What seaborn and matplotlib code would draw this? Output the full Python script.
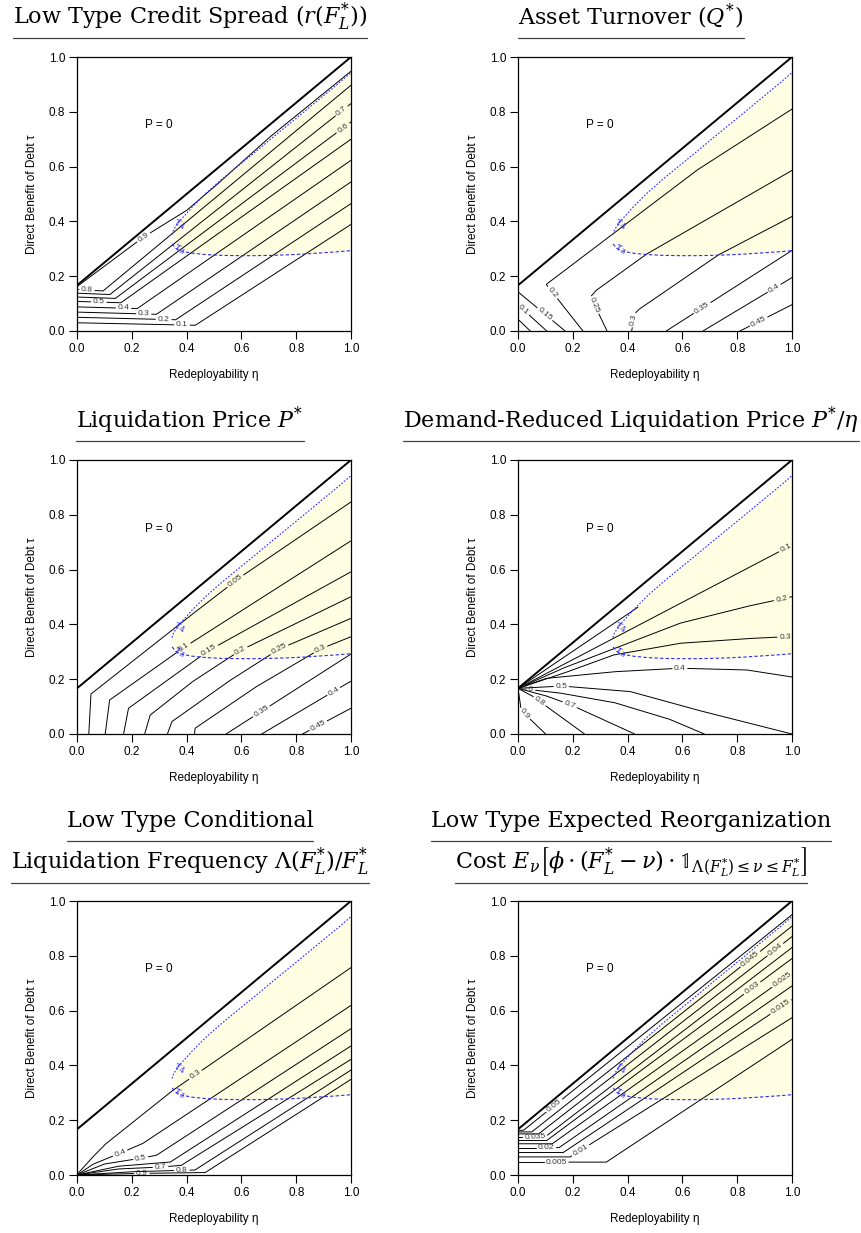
import numpy as np
import matplotlib
matplotlib.use("Agg")
import matplotlib.pyplot as plt
from matplotlib.lines import Line2D
import seaborn as sns

# axes ticks
ticks = [0.0, 0.2, 0.4, 0.6, 0.8, 1.0]

# boundary of the P = 0 region
boundary_eta = [0.0, 1.0]
boundary_tau = [0.1667, 1.0]

# tau4 (upper) and tau3 (lower) curves
tau4_eta = [0.347, 0.352, 0.362, 0.375, 0.395, 0.42, 0.47, 0.53, 0.59, 0.65, 0.71, 0.77, 0.83, 0.89, 0.95, 1.0]
tau4_val = [0.352, 0.368, 0.385, 0.402, 0.424, 0.452, 0.502, 0.555, 0.604, 0.653, 0.703, 0.752, 0.801, 0.851, 0.900, 0.943]
tau3_eta = [0.347, 0.36, 0.38, 0.42, 0.47, 0.53, 0.59, 0.65, 0.71, 0.77, 0.83, 0.89, 0.95, 1.0]
tau3_val = [0.318, 0.302, 0.292, 0.284, 0.279, 0.276, 0.275, 0.275, 0.276, 0.278, 0.281, 0.285, 0.289, 0.293]

# panel 1: low type credit spread
spread_levels = ["0.1", "0.2", "0.3", "0.4", "0.5", "0.6", "0.7", "0.8", "0.9"]
spread_lines = [
    [(0, 0.030), (0.432, 0.021), (1, 0.389)],
    [(0, 0.050), (0.36, 0.041), (1, 0.465)],
    [(0, 0.069), (0.29, 0.061), (1, 0.544)],
    [(0, 0.088), (0.22, 0.082), (1, 0.623)],
    [(0, 0.108), (0.16, 0.103), (1, 0.700)],
    [(0, 0.124), (0.14, 0.119), (1, 0.763)],
    [(0, 0.138), (0.12, 0.133), (1, 0.830)],
    [(0, 0.152), (0.095, 0.146), (1, 0.897)],
    [(0, 0.162), (0.243, 0.343), (0.40, 0.44), (0.5, 0.525), (0.7, 0.705), (1, 0.948)],
]
spread_label_at = [(0.383, 0.023), (0.316, 0.043), (0.243, 0.063), (0.17, 0.084), (0.079, 0.106),
                   (0.965, 0.748), (0.961, 0.809), (0.036, 0.152), (0.243, 0.343)]

# panel 2: asset turnover
turnover_levels = ["0.05", "0.1", "0.15", "0.2", "0.25", "0.3", "0.35", "0.4", "0.45"]
turnover_lines = [
    [(0, 0.043), (0.045, 0)],
    [(0, 0.095), (0.105, 0)],
    [(0, 0.143), (0.172, 0)],
    [(0.237, 0), (0.103, 0.17), (0.347, 0.355), (0.65, 0.585), (1, 0.81)],
    [(0.325, 0), (0.265, 0.125), (0.285, 0.148), (0.468, 0.28), (1, 0.586)],
    [(0.415, 0), (0.425, 0.062), (0.44, 0.078), (0.73, 0.277), (1, 0.418)],
    [(0.541, 0), (1, 0.294)],
    [(0.675, 0), (1, 0.195)],
    [(0.81, 0), (1, 0.096)],
]
turnover_label_at = [None, (0.018, 0.075), (0.097, 0.06), (0.125, 0.14), (0.274, 0.094), (0.422, 0.04),
                     (0.669, 0.088), (0.937, 0.152), (0.882, 0.027)]

# panel 3: liquidation price
price_levels = ["0.05", "0.1", "0.15", "0.2", "0.25", "0.3", "0.35", "0.4", "0.45"]
price_lines = [
    [(0.043, 0), (0.051, 0.146), (0.401, 0.422), (0.6, 0.575), (1, 0.847)],
    [(0.103, 0), (0.119, 0.124), (0.389, 0.315), (1, 0.705)],
    [(0.17, 0), (0.188, 0.094), (0.481, 0.305), (1, 0.592)],
    [(0.247, 0), (0.267, 0.069), (0.42, 0.19), (0.596, 0.305), (1, 0.501)],
    [(0.33, 0), (0.346, 0.045), (0.55, 0.19), (0.738, 0.31), (1, 0.422)],
    [(0.429, 0), (0.431, 0.021), (0.65, 0.17), (0.888, 0.31), (1, 0.355)],
    [(0.544, 0), (1, 0.292)],
    [(0.674, 0), (1, 0.193)],
    [(0.823, 0), (1, 0.094)],
]
price_label_at = [(0.584, 0.55), (0.389, 0.319), (0.481, 0.307), (0.596, 0.305), (0.738, 0.31), (0.888, 0.31),
                  (0.669, 0.088), (0.937, 0.155), (0.882, 0.027)]

# panel 4: demand-reduced liquidation price
reduced_levels = [None, "0.1", "0.2", "0.3", "0.4", "0.5", "0.6", "0.7", "0.8", "0.9"]
reduced_lines = [
    [(0, 0.1667), (0.438, 0.463)],
    [(0, 0.1667), (1, 0.69)],
    [(0, 0.1667), (0.164, 0.24), (0.347, 0.31), (0.59, 0.404), (0.833, 0.465), (1, 0.501)],
    [(0, 0.1667), (0.164, 0.221), (0.347, 0.288), (0.59, 0.331), (0.833, 0.348), (1, 0.356)],
    [(0, 0.1667), (0.103, 0.203), (0.347, 0.227), (0.59, 0.24), (0.833, 0.234), (1, 0.208)],
    [(0, 0.1667), (0.16, 0.175), (0.409, 0.155), (0.652, 0.088), (1, 0.0)],
    [(0, 0.1667), (0.15, 0.15), (0.35, 0.115), (0.55, 0.055), (0.68, 0)],
    [(0, 0.1667), (0.1, 0.14), (0.189, 0.108), (0.426, 0)],
    [(0, 0.1667), (0.05, 0.14), (0.243, 0)],
    [(0, 0.1667), (0.012, 0.085), (0.101, 0)],
]
reduced_label_at = [None, (0.973, 0.69), (0.96, 0.5), (0.975, 0.356), (0.59, 0.24), (0.158, 0.175),
                    (0.035, 0.16), (0.189, 0.108), (0.079, 0.12), (0.018, 0.067)]

# panel 5: low type conditional liquidation frequency
freq_levels = ["0.3", "0.4", "0.5", "0.6", "0.7", "0.8", "0.9"]
freq_lines = [
    [(0, 0.002), (0.055, 0.063), (0.103, 0.112), (0.225, 0.209), (0.347, 0.307), (1, 0.757)],
    [(0, 0.0), (0.06, 0.04), (0.158, 0.08), (0.24, 0.115), (1, 0.619)],
    [(0, 0.0), (0.1, 0.04), (0.231, 0.061), (0.29, 0.072), (1, 0.534)],
    [(0, 0.0), (0.15, 0.032), (0.34, 0.047), (1, 0.471)],
    [(0, 0.0), (0.15, 0.022), (0.304, 0.029), (0.38, 0.035), (1, 0.422)],
    [(0, 0.0), (0.2, 0.012), (0.383, 0.017), (0.43, 0.018), (1, 0.383)],
    [(0, 0.0), (0.237, 0.006), (0.468, 0.009), (1, 0.349)],
]
freq_label_at = [(0.432, 0.367), (0.158, 0.079), (0.231, 0.063), None, (0.304, 0.028), (0.383, 0.017), (0.237, 0.006)]

# panel 6: low type expected reorganization cost
cost_levels = ["0.005", "0.01", "0.015", "0.02", "0.025", "0.03", "0.035", "0.04", "0.045", "0.05"]
cost_left_tau = [0.047, 0.066, 0.082, 0.100, 0.114, 0.126, 0.140, 0.150, 0.157, 0.163]
cost_kink_eta = [0.322, 0.19, 0.165, 0.15, 0.125, 0.105, 0.10, 0.075, 0.05, 0.02]
cost_right_tau = [0.495, 0.574, 0.640, 0.690, 0.737, 0.790, 0.830, 0.870, 0.908, 0.950]
cost_label_at = [(0.14, 0.047), (0.231, 0.085), (0.951, 0.627), (0.103, 0.10), (0.955, 0.724), (0.848, 0.692),
                 (0.061, 0.14), (0.933, 0.83), (0.839, 0.80), (0.128, 0.26)]
cost_lines = [[(0, lt), (ke, lt), (1, rt)] for lt, ke, rt in zip(cost_left_tau, cost_kink_eta, cost_right_tau)]

titles = [
    [r"Low Type Credit Spread $(r(F_L^{*}))$"],
    [r"Asset Turnover $(Q^{*})$"],
    [r"Liquidation Price $P^{*}$"],
    [r"Demand-Reduced Liquidation Price $P^{*}/\eta$"],
    ["Low Type Conditional", r"Liquidation Frequency $\Lambda(F_L^{*})/F_L^{*}$"],
    ["Low Type Expected Reorganization",
     r"Cost $E_{\nu}\left[\phi\cdot(F_L^{*}-\nu)\cdot\mathbb{1}_{\Lambda(F_L^{*})\leq\nu\leq F_L^{*}}\right]$"],
]

panels = [
    (spread_levels, spread_lines, spread_label_at),
    (turnover_levels, turnover_lines, turnover_label_at),
    (price_levels, price_lines, price_label_at),
    (reduced_levels, reduced_lines, reduced_label_at),
    (freq_levels, freq_lines, freq_label_at),
    (cost_levels, cost_lines, cost_label_at),
]

sns.set_style("ticks")
plt.rcParams["font.family"] = ["Liberation Sans", "DejaVu Sans"]
plt.rcParams["mathtext.fontset"] = "dejavuserif"
plt.rcParams["axes.linewidth"] = 0.9
plt.rcParams["axes.edgecolor"] = "black"
for key in ["text.color", "axes.labelcolor", "xtick.color", "ytick.color"]:
    plt.rcParams[key] = "black"

W, H = 861, 1233
AX_PX = 274.0
LABEL_FS = 6
fig = plt.figure(figsize=(W / 100, H / 100), dpi=100)

ax_left = [77, 518]
ax_top = [57, 460, 901]
title_cx = [190, 631]
title_base = [[24], [428], [827, 869]]
title_rule = [[38], [441], [841, 883]]


def label_width(s):
    em = LABEL_FS * 100 / 72
    return sum(0.278 * em if c == "." else 0.556 * em for c in s)


def contour(ax, pts, text, near):
    pts = np.asarray(pts, float)
    seg = np.hypot(*np.diff(pts, axis=0).T)
    s = np.r_[0.0, np.cumsum(seg)]
    ss = np.linspace(0.0, s[-1], 600)
    x = np.interp(ss, s, pts[:, 0])
    y = np.interp(ss, s, pts[:, 1])
    pieces = [(x, y)]
    if text is not None and near is not None:
        i = np.argmin(np.hypot(x - near[0], y - near[1]))
        half = (label_width(text) + 4) / AX_PX / 2
        s0 = ss[i]
        a = ss <= s0 - half
        b = ss >= s0 + half
        pieces = [(x[a], y[a]), (x[b], y[b])]
        xa, ya = np.interp(s0 - half, ss, x), np.interp(s0 - half, ss, y)
        xb, yb = np.interp(s0 + half, ss, x), np.interp(s0 + half, ss, y)
        ang = np.degrees(np.arctan2(yb - ya, xb - xa))
        if ang > 90:
            ang -= 180
        if ang < -90:
            ang += 180
        ax.text(x[i], y[i], text, rotation=ang, rotation_mode="anchor", ha="center", va="center",
                fontsize=LABEL_FS, color="#333333", zorder=4)
    for px, py in pieces:
        if len(px) > 1:
            sns.lineplot(x=px, y=py, sort=False, estimator=None, color="black", linewidth=0.7, ax=ax, zorder=3)


axes = []
for k, (levels, lines, label_at) in enumerate(panels):
    r, c = divmod(k, 2)
    ax = fig.add_axes([ax_left[c] / W, 1 - (ax_top[r] + AX_PX) / H, AX_PX / W, AX_PX / H])
    axes.append(ax)

    g = np.linspace(tau4_eta[0], 1.0, 200)
    ax.fill_between(g, np.interp(g, tau3_eta, tau3_val), np.interp(g, tau4_eta, tau4_val),
                    color="#fffde2", lw=0, zorder=1)

    for lev, pts, near in zip(levels, lines, label_at):
        contour(ax, pts, lev, near)

    sns.lineplot(x=boundary_eta, y=boundary_tau, color="black", linewidth=1.4, ax=ax, zorder=5)
    ax.plot(tau4_eta, tau4_val, color="#2a2aff", lw=0.8, ls=(0, (1.5, 1.5)), zorder=4)
    ax.plot(tau3_eta, tau3_val, color="#2a2aff", lw=0.8, ls=(0, (3, 2)), zorder=4)
    ax.text(0.372, 0.388, r"$\tau_4$", color="#2a2aff", fontsize=8, rotation=-25,
            ha="center", va="center", zorder=6)
    ax.text(0.372, 0.298, r"$\tau_3$", color="#2a2aff", fontsize=8, rotation=-25,
            ha="center", va="center", zorder=6)
    ax.text(0.3, 0.75, "P = 0", fontsize=8.5, ha="center", va="center")

    ax.set_xlim(0, 1)
    ax.set_ylim(0, 1)
    ax.set_xticks(ticks)
    ax.set_yticks(ticks)
    ax.set_xticklabels([f"{t:.1f}" for t in ticks])
    ax.set_yticklabels([f"{t:.1f}" for t in ticks])
    ax.tick_params(direction="out", length=5.5, width=0.8, pad=3, labelsize=8.5, colors="black")
    ax.set_xlabel("Redeployability η", fontsize=8.5, labelpad=10)
    ax.set_ylabel("Direct Benefit of Debt τ", fontsize=8.5, labelpad=8)
    for sp in ax.spines.values():
        sp.set_visible(True)
        sp.set_color("black")

title_texts = []
for k, lines in enumerate(titles):
    r, c = divmod(k, 2)
    for j, t in enumerate(lines):
        tx = fig.text(title_cx[c] / W, 1 - title_base[r][j] / H, t, ha="center", va="baseline",
                      fontsize=16, family="DejaVu Serif", color="black")
        title_texts.append((tx, title_rule[r][j]))

fig.canvas.draw()
for tx, ypx in title_texts:
    bb = tx.get_window_extent()
    yf = 1 - ypx / H
    fig.add_artist(Line2D([bb.x0 / W, bb.x1 / W], [yf, yf], transform=fig.transFigure,
                          color="#444444", lw=0.9))

fig.savefig("out.png", dpi=100)
